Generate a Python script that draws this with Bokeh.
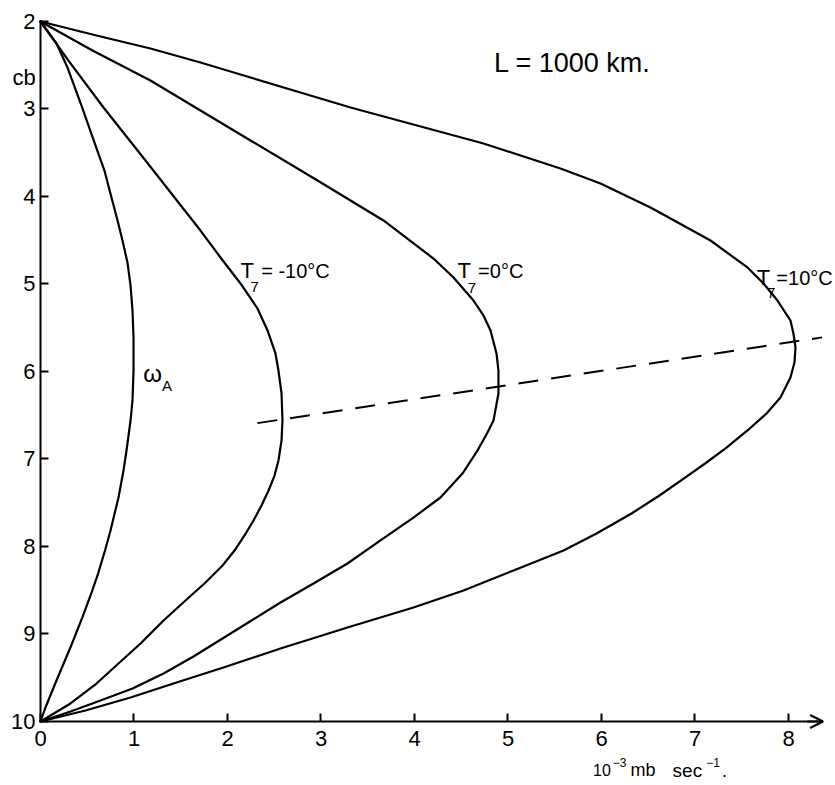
from bokeh.plotting import figure
from bokeh.models import Range1d, FixedTicker, Label, Arrow, OpenHead, LinearAxis
from bokeh.embed import file_html
from bokeh.resources import INLINE

# ---- data ----
x_ticks = [0, 1, 2, 3, 4, 5, 6, 7, 8]
y_ticks = [2, 3, 4, 5, 6, 7, 8, 9, 10]

omega_a_x = [0, 0.171, 0.289, 0.449, 0.588, 0.684, 0.759, 0.824, 0.877, 0.930, 0.963, 0.984, 0.995,
             0.995, 0.984, 0.963, 0.920, 0.888, 0.834, 0.749, 0.690, 0.616, 0.543, 0.448, 0.320,
             0.171, 0.053, 0]
omega_a_y = [2.0, 2.251, 2.526, 2.994, 3.417, 3.703, 4.011, 4.274, 4.503, 4.754, 5.017, 5.303, 5.611,
             5.989, 6.331, 6.560, 6.903, 7.131, 7.440, 7.817, 8.046, 8.309, 8.537, 8.811, 9.154,
             9.531, 9.840, 10.0]

t_m10_x = [0, 0.299, 0.674, 1.123, 1.711, 1.925, 2.139, 2.321, 2.428, 2.513, 2.545, 2.578, 2.588,
           2.578, 2.545, 2.503, 2.439, 2.364, 2.278, 2.182, 2.075, 1.947, 1.765, 1.551, 1.316,
           1.070, 0.834, 0.599, 0.321, 0]
t_m10_y = [2.0, 2.446, 2.983, 3.589, 4.389, 4.697, 4.994, 5.280, 5.531, 5.794, 5.989, 6.251, 6.560,
           6.789, 7.017, 7.189, 7.360, 7.531, 7.703, 7.874, 8.046, 8.217, 8.411, 8.617, 8.846,
           9.109, 9.337, 9.566, 9.794, 10.0]

t_0_x = [0, 0.556, 1.176, 1.711, 2.246, 2.963, 3.668, 4.203, 4.417, 4.631, 4.738, 4.813, 4.877,
         4.898, 4.898, 4.845, 4.781, 4.674, 4.513, 4.278, 3.989, 3.636, 3.283, 2.920, 2.567, 2.257,
         1.947, 1.636, 1.316, 0.984, 0.642, 0.321, 0]
t_0_y = [2.0, 2.331, 2.674, 3.017, 3.360, 3.817, 4.274, 4.709, 4.926, 5.189, 5.360, 5.531, 5.794,
         5.989, 6.251, 6.560, 6.697, 6.903, 7.166, 7.440, 7.669, 7.931, 8.194, 8.423, 8.640, 8.846,
         9.051, 9.257, 9.451, 9.623, 9.760, 9.886, 10.0]

t_10_x = [0, 0.599, 1.176, 1.711, 2.246, 3.316, 4.738, 5.561, 5.989, 6.524, 7.166, 7.561, 7.733,
          7.882, 8.021, 8.053, 8.075, 8.064, 8.021, 7.914, 7.765, 7.561, 7.337, 7.123, 6.898, 6.620,
          6.321, 5.947, 5.594, 5.059, 4.524, 3.989, 3.283, 2.567, 1.957, 1.455, 0.963, 0.481, 0]
t_10_y = [2.0, 2.160, 2.309, 2.469, 2.640, 2.983, 3.394, 3.680, 3.851, 4.126, 4.503, 4.811, 4.994,
          5.189, 5.417, 5.566, 5.726, 5.897, 6.069, 6.297, 6.480, 6.674, 6.869, 7.040, 7.211, 7.417,
          7.623, 7.851, 8.046, 8.274, 8.503, 8.697, 8.926, 9.166, 9.383, 9.554, 9.726, 9.874, 10.0]

max_line_x = [2.32, 8.36]
max_line_y = [6.59, 5.61]

FONT = "Liberation Sans"

p = figure(width=833, height=783, output_backend="svg", toolbar_location=None,
           x_range=Range1d(-0.4278, 8.4813), y_range=Range1d(10.7086, 1.76),
           x_axis_location=None, y_axis_location=None,
           min_border=0, min_border_left=0, min_border_right=0,
           min_border_top=0, min_border_bottom=0)
p.grid.visible = False
p.outline_line_color = None
p.background_fill_color = "white"
p.border_fill_color = "white"

xax = LinearAxis(fixed_location=10, bounds=(0, 8.36), ticker=FixedTicker(ticks=x_ticks))
yax = LinearAxis(fixed_location=0, bounds=(2, 10), ticker=FixedTicker(ticks=y_ticks))
for ax in (xax, yax):
    ax.axis_line_width = 2
    ax.axis_line_color = "black"
    ax.major_tick_line_width = 2
    ax.major_tick_line_color = "black"
    ax.major_tick_in = 8
    ax.major_tick_out = 0
    ax.minor_tick_in = 0
    ax.minor_tick_out = 0
    ax.major_label_text_font = FONT
    ax.major_label_text_font_size = "22px"
    ax.major_label_text_color = "black"
xax.major_label_standoff = 10
yax.major_label_standoff = 5
p.add_layout(xax, "below")
p.add_layout(yax, "left")

p.add_layout(Arrow(end=OpenHead(size=13, line_width=2, line_color="black"),
                   x_start=8.2, y_start=10, x_end=8.37, y_end=10,
                   line_width=2, line_color="black"))

for xs, ys in ((omega_a_x, omega_a_y), (t_m10_x, t_m10_y), (t_0_x, t_0_y), (t_10_x, t_10_y)):
    p.line(xs, ys, line_width=2.2, line_color="black", line_join="round", line_cap="round")

p.line(max_line_x, max_line_y, line_width=2, line_color="black", line_dash="20 13")


def lab(text, x, y, size):
    p.add_layout(Label(x=x, y=y, text=text, text_font=FONT, text_font_size=f"{size}px",
                       text_color="black", text_baseline="alphabetic", text_align="left"))


lab("cb", -0.30, 2.64, 22)
lab("L = 1000 km.", 4.85, 2.47, 27)

lab("T", 2.14, 4.85, 22)
lab("7", 2.245, 5.03, 15)
lab("= -10°C", 2.36, 4.85, 20)

lab("T", 4.46, 4.85, 22)
lab("7", 4.57, 5.05, 15)
lab("=0°C", 4.68, 4.85, 20)

lab("T", 7.66, 4.93, 22)
lab("7", 7.77, 5.10, 15)
lab("=10°C", 7.87, 4.93, 20)

lab("ω", 1.10, 6.02, 24)
lab("A", 1.30, 6.16, 15)

lab("10", 5.91, 10.56, 16)
lab("−3", 6.12, 10.47, 12)
lab("mb", 6.31, 10.56, 18)
lab("sec", 6.76, 10.56, 19)
lab("−1", 7.12, 10.47, 12)
lab(".", 7.29, 10.56, 18)

open("out.html", "w").write(file_html(p, INLINE))
